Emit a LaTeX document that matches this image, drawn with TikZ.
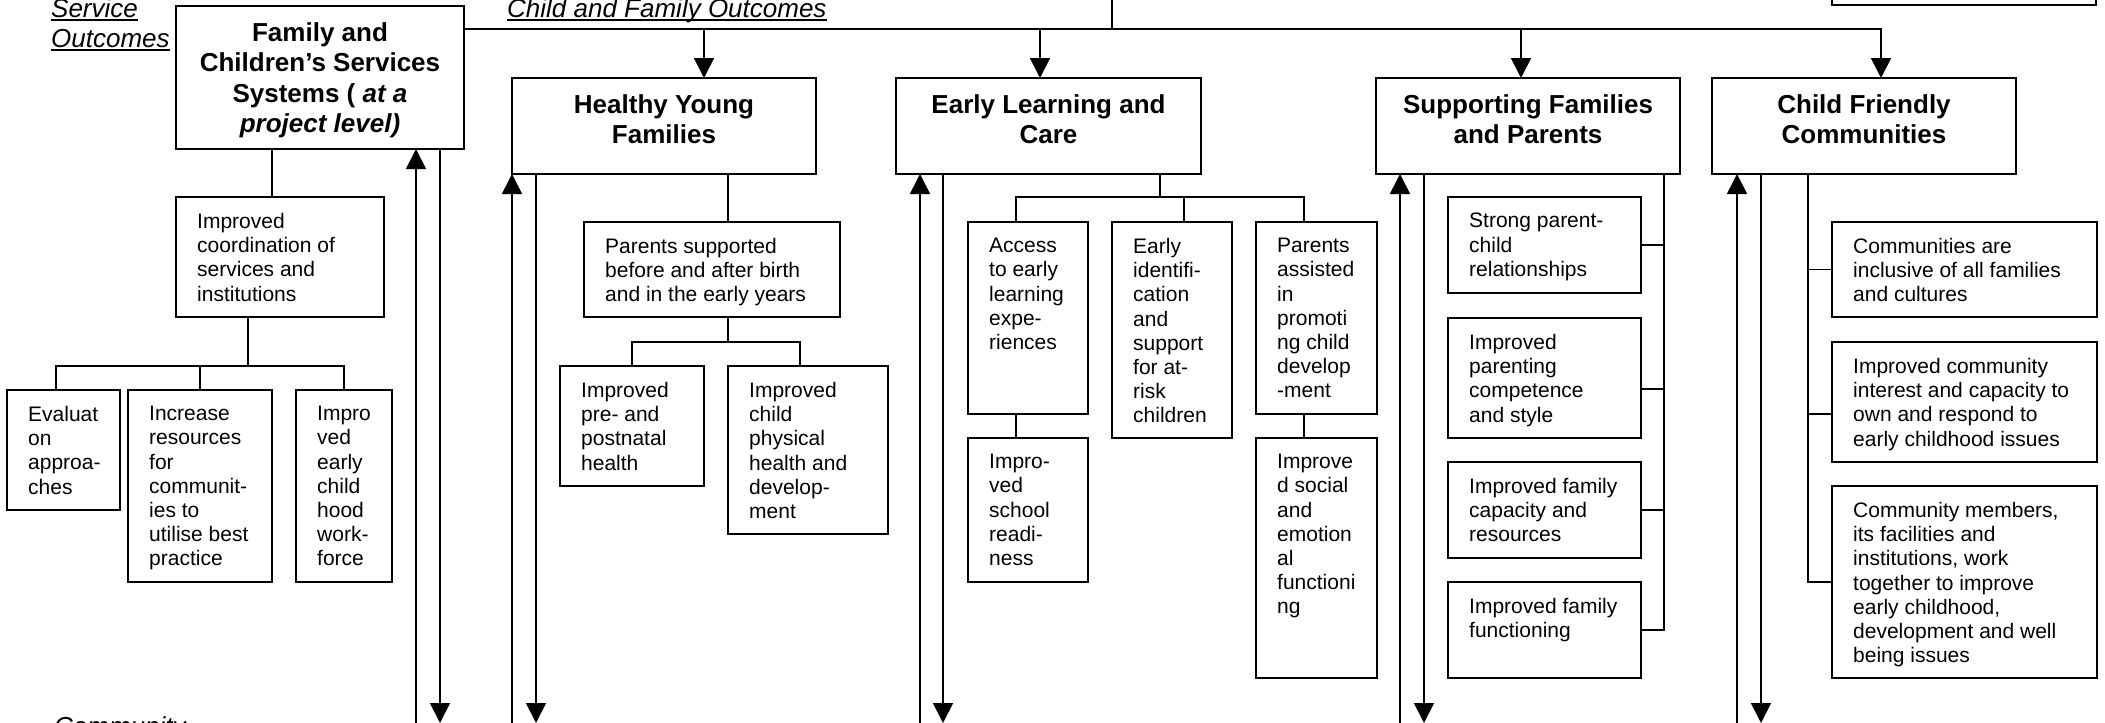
\documentclass[tikz,border=0pt]{standalone}
\usepackage{fontspec}
\setmainfont{Liberation Sans}
\usetikzlibrary{arrows.meta}
\tikzset{
  ob/.style={draw, line width=2pt, inner sep=0pt, outer sep=0pt, rectangle},
  bodytxt/.style={anchor=north west, inner sep=0pt, align=left, font=\fontsize{21}{24.2}\selectfont},
  titletxt/.style={anchor=north, inner sep=0pt, align=center, font=\fontsize{26}{30.5}\selectfont\bfseries},
  lbl/.style={anchor=base west, inner sep=0pt, font=\fontsize{26}{30}\selectfont\itshape},
  ln/.style={line width=1.7pt},
  arr/.style={line width=1.7pt, -{Triangle[length=20pt,width=20pt]}},
  ul/.style={line width=1.5pt},
}
% name, x1, y1, x2, y2, text
\newcommand\obox[6]{%
  \node[ob, minimum width={(#4-#2)*1pt}, minimum height={(#5-#3)*1pt}] (#1) at ({(#2+#4)/2},{(#3+#5)/2}) {};
  \node[bodytxt] (#1t) at ([xshift=21pt,yshift=-16pt]#1.north west) {#6};
}
\newcommand\tbox[6]{%
  \node[ob, minimum width={(#4-#2)*1pt}, minimum height={(#5-#3)*1pt}] (#1) at ({(#2+#4)/2},{(#3+#5)/2}) {};
  \node[titletxt] (#1t) at ([yshift=-16pt]#1.north) {#6};
}
\begin{document}
\begin{tikzpicture}[x=1pt,y=-1pt]
\useasboundingbox (0,0) rectangle (2105,723);
\clip (0,0) rectangle (2105,723);

% side labels
\node[lbl] (svc) at (51,17.5) {Service};
\node[lbl] (outc) at (51,47.5) {Outcomes};
\node[lbl] (cfo) at (507,17.5) {Child and Family Outcomes};
\node[lbl] (comm) at (54,735) {Community};
\draw[ul] ([yshift=-2.5pt]svc.base west) -- ([yshift=-2.5pt]svc.base east);
\draw[ul] ([yshift=-2.5pt]outc.base west) -- ([yshift=-2.5pt]outc.base east);
\draw[ul] ([yshift=-2.5pt]cfo.base west) -- ([yshift=-2.5pt]cfo.base east);

% top right partial box
\node[ob, minimum width=264pt, minimum height=60pt] (tr) at (1964,-25) {};

% outcome title boxes
\tbox{fcs}{176}{6}{464}{149}{Family and\\Children’s Services\\Systems ( \textit{at a}\\\textit{project level)}}
\tbox{hyf}{512}{78}{816}{174}{Healthy Young\\Families}
\tbox{elc}{896}{78}{1201}{174}{Early Learning and\\Care}
\tbox{sfp}{1376}{78}{1680}{174}{Supporting Families\\and Parents}
\tbox{cfc}{1712}{78}{2016}{174}{Child Friendly\\Communities}

% family and children's services column
\obox{coord}{176}{197}{384}{317}{Improved\\coordination of\\services and\\institutions}
\obox{eval}{7}{390}{120}{510}{Evaluat\\on\\approa-\\ches}
\obox{incr}{128}{390}{272}{582}{Increase\\resources\\for\\communit-\\ies to\\utilise best\\practice}
\obox{impro}{296}{390}{392}{582}{Impro\\ved\\early\\child\\hood\\work-\\force}

% healthy young families column
\obox{parsup}{584}{222}{840}{317}{Parents supported\\before and after birth\\and in the early years}
\obox{pre}{560}{366}{704}{486}{Improved\\pre- and\\postnatal\\health}
\obox{child}{728}{366}{888}{534}{Improved\\child\\physical\\health and\\develop-\\ment}

% early learning column
\obox{access}{968}{222}{1088}{414}{Access\\to early\\learning\\expe-\\riences}
\obox{ident}{1112}{222}{1232}{438}{Early\\identifi-\\cation\\and\\support\\for at-\\risk\\children}
\obox{passist}{1256}{222}{1377}{414}{Parents\\assisted\\in\\promoti\\ng child\\develop\\-ment}
\obox{school}{968}{438}{1088}{582}{Impro-\\ved\\school\\readi-\\ness}
\obox{social}{1256}{438}{1377}{678}{Improve\\d social\\and\\emotion\\al\\functioni\\ng}

% supporting families column
\obox{strong}{1448}{197}{1641}{293}{Strong parent-\\child\\relationships}
\obox{parenting}{1448}{318}{1641}{438}{Improved\\parenting\\competence\\and style}
\obox{capacity}{1448}{462}{1641}{558}{Improved family\\capacity and\\resources}
\obox{functioning}{1448}{582}{1641}{678}{Improved family\\functioning}

% child friendly column
\obox{incl}{1832}{222}{2097}{317}{Communities are\\inclusive of all families\\and cultures}
\obox{interest}{1832}{342}{2097}{462}{Improved community\\interest and capacity to\\own and respond to\\early childhood issues}
\obox{members}{1832}{486}{2097}{678}{Community members,\\its facilities and\\institutions, work\\together to improve\\early childhood,\\development and well\\being issues}

% top bus
\coordinate (topc) at (1112,-5);
\draw[ln] (topc) -- (1112,29);
\draw[arr] (fcs.east |- 0,29) -- (1881,29) -- (1881,0 |- cfc.north);
\draw[arr] (704,29) -- (704,0 |- hyf.north);
\draw[arr] (1040,29) -- (1040,0 |- elc.north);
\draw[arr] (1521,29) -- (1521,0 |- sfp.north);

% feedback arrows to/from the bottom
\coordinate (u1) at (416,723);
\coordinate (d1) at (440,723);
\coordinate (u2) at (512,723);
\coordinate (d2) at (536,723);
\coordinate (u3) at (920,723);
\coordinate (d3) at (943,723);
\coordinate (u4) at (1400,723);
\coordinate (d4) at (1424,723);
\coordinate (u5) at (1737,723);
\coordinate (d5) at (1761,723);
\draw[arr] (u1) -- (u1 |- fcs.south);
\draw[arr] (d1 |- fcs.south) -- (d1);
\draw[arr] (u2) -- (u2 |- hyf.south);
\draw[arr] (d2 |- hyf.south) -- (d2);
\draw[arr] (u3) -- (u3 |- elc.south);
\draw[arr] (d3 |- elc.south) -- (d3);
\draw[arr] (u4) -- (u4 |- sfp.south);
\draw[arr] (d4 |- sfp.south) -- (d4);
\draw[arr] (u5) -- (u5 |- cfc.south);
\draw[arr] (d5 |- cfc.south) -- (d5);

% FCS tree
\draw[ln] (272,0 |- fcs.south) -- (272,0 |- coord.north);
\draw[ln] (248,0 |- coord.south) -- (248,366);
\draw[ln] (56,0 |- eval.north) -- (56,366) -- (344,366) -- (344,0 |- impro.north);
\draw[ln] (200,0 |- incr.north) -- (200,366);

% Healthy tree
\draw[ln] (728,0 |- hyf.south) -- (728,0 |- parsup.north);
\draw[ln] (728,0 |- parsup.south) -- (728,342);
\draw[ln] (632,0 |- pre.north) -- (632,342) -- (800,342) -- (800,0 |- child.north);

% Early learning tree
\draw[ln] (1160,0 |- elc.south) -- (1160,197);
\draw[ln] (1016,0 |- access.north) -- (1016,197) -- (1304,197) -- (1304,0 |- passist.north);
\draw[ln] (1184,0 |- ident.north) -- (1184,197);
\draw[ln] (1016,0 |- access.south) -- (1016,0 |- school.north);
\draw[ln] (1304,0 |- passist.south) -- (1304,0 |- social.north);

% Supporting families tree
\draw[ln] (1664,0 |- sfp.south) -- (1664,0 |- functioning.east) -- (functioning.east);
\draw[ln] (strong.east) -- (1664,0 |- strong.east);
\draw[ln] ([yshift=-11pt]parenting.east) -- (1664,389);
\draw[ln] (capacity.east) -- (1664,0 |- capacity.east);

% Child friendly tree
\draw[ln] (1808,0 |- cfc.south) -- (1808,0 |- members.west) -- (members.west);
\draw[ln] (incl.west) -- (1808,0 |- incl.west);
\draw[ln] ([yshift=-12pt]interest.west) -- (1808,414);
\end{tikzpicture}
\end{document}
